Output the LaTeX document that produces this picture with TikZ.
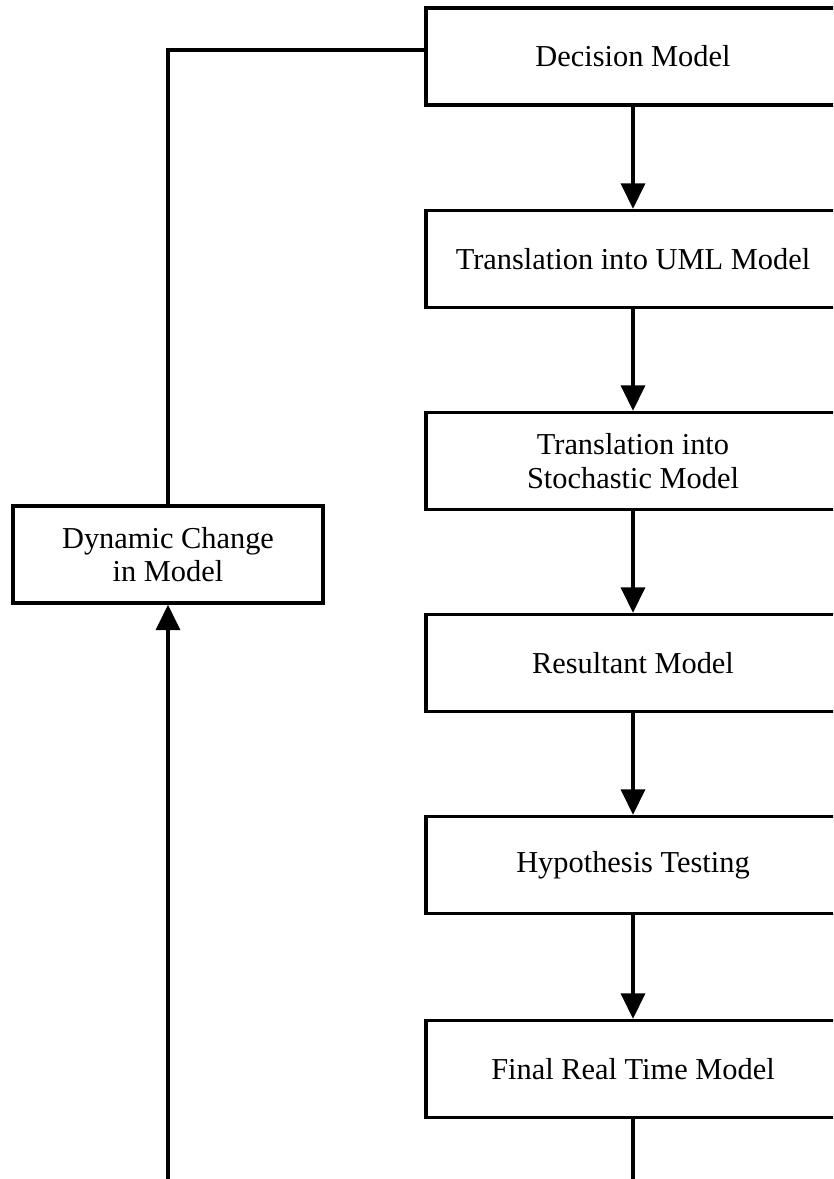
\documentclass[tikz,border=0pt]{standalone}
\usepackage{fontspec}
\setmainfont{Liberation Serif}
\usetikzlibrary{arrows.meta}
\begin{document}
\begin{tikzpicture}[x=0.75pt,y=-0.75pt,
 box/.style={draw, line width=2.6pt, minimum height=72.75pt, align=center, inner sep=0pt, font=\fontsize{22.8}{25}\selectfont},
 rbox/.style={box, minimum width=310.5pt},
 conn/.style={line width=2.4pt},
 arr/.style={conn, -{Triangle[length=19pt,width=18pt]}}]
\useasboundingbox (0,0) rectangle (833,1179);
\clip (0,0) rectangle (833,1179);
\node[rbox] (dm) at (633,56.5) {Decision Model};
\node[rbox] (uml) at (633,259) {Translation into UML Model};
\node[rbox] (sto) at (633,461) {Translation into\\Stochastic Model};
\node[rbox] (res) at (633,663) {Resultant Model};
\node[rbox] (hyp) at (633,865) {Hypothesis Testing};
\node[rbox] (fin) at (633,1069) {Final Real Time Model};
\node[box, minimum width=232.5pt] (dyn) at (168,554.5) {Dynamic Change\\in Model};
\draw[arr] (dm) -- (uml);
\draw[arr] (uml) -- (sto);
\draw[arr] (sto) -- (res);
\draw[arr] (res) -- (hyp);
\draw[arr] (hyp) -- (fin);
\coordinate (c1) at (168,50);
\draw[conn] (dm.west |- c1) -- (c1) -- (dyn.north);
\coordinate (b1) at (400,1200);
\draw[arr] (fin.south) -- (fin.south |- b1) -- (dyn.south |- b1) -- (dyn.south);
\end{tikzpicture}
\end{document}
